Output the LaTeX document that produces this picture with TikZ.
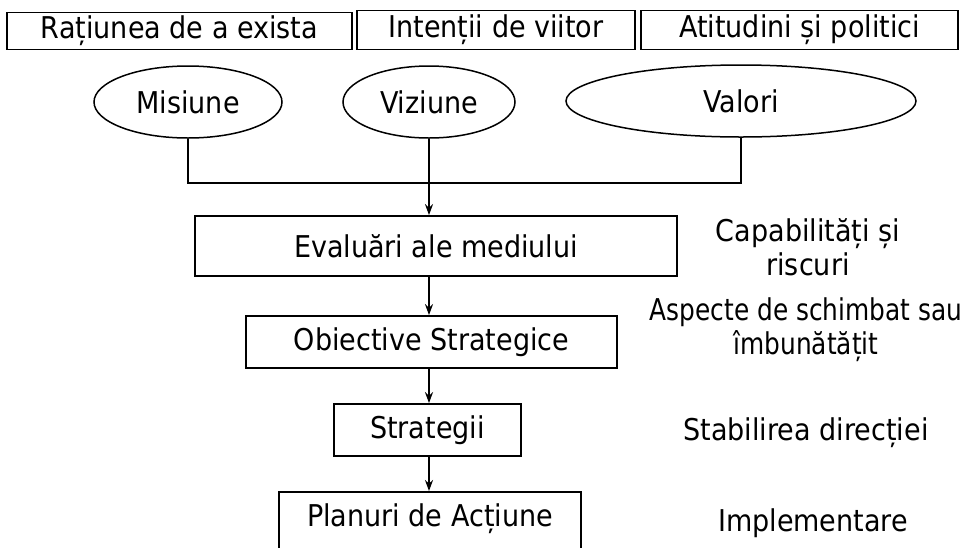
\documentclass[tikz,border=0pt]{standalone}
\usepackage{fontspec}
\setmainfont{DejaVu Sans}[FakeStretch=0.9]
\usetikzlibrary{shapes.geometric,arrows.meta}
\begin{document}
\begin{tikzpicture}[x=1pt,y=-1pt,
  every node/.style={font=\fontsize{30}{34}\selectfont, inner sep=0pt},
  box/.style={draw, line width=1.8pt, rectangle},
  oval/.style={draw, line width=1.5pt, ellipse},
  conn/.style={line width=1.8pt},
  arr/.style={line width=1.8pt, -{Stealth[length=11pt,width=8pt]}},
  lab/.style={align=center}]
\useasboundingbox (0,0) rectangle (966,547);
% top boxes
\node[box, minimum width=345, minimum height=37] (r1) at (179.5,31) {Rațiunea de a exista};
\node[box, minimum width=278, minimum height=39] (r2) at (496,30) {Intenții de viitor};
\node[box, minimum width=317, minimum height=39] (r3) at (799.5,30) {Atitudini și politici};
% ellipses
\node[oval, minimum width=188, minimum height=72] (mis) at (188,102) {Misiune};
\node[oval, minimum width=172, minimum height=72] (viz) at (429,102) {Viziune};
\node[oval, minimum width=350, minimum height=72] (val) at (741,101) {Valori};
\coordinate (join) at (188,183);
\draw[conn] (mis.south) -- (join) -| (val.south);
% flow boxes
\node[box, minimum width=482, minimum height=60] (ev) at (436,246) {Evaluări ale mediului};
\node[box, minimum width=371, minimum height=52] (ob) at (431.5,342) {Obiective Strategice};
\node[box, minimum width=187, minimum height=52] (st) at (427.5,430) {Strategii};
\node[box, minimum width=302, minimum height=90, anchor=north] (pl) at (430,491) {};
\node (plt) at (430,519) {Planuri de Acțiune};
% arrows
\draw[arr] (viz.south) -- (viz.south |- ev.north);
\draw[arr] (ev.south -| viz.south) -- (viz.south |- ob.north);
\draw[arr] (ob.south -| viz.south) -- (viz.south |- st.north);
\draw[arr] (st.south -| viz.south) -- (viz.south |- pl.north);
% right labels
\node[lab] (l1) at (808,247) {Capabilități și\\riscuri};
\node[lab, xscale=0.92, transform shape] (l2) at (806,330) {Aspecte de schimbat sau\\îmbunătățit};
\node[lab] (l3) at (806,433) {Stabilirea direcției};
\node[lab] (l4) at (813,523) {Implementare};
\end{tikzpicture}
\end{document}
